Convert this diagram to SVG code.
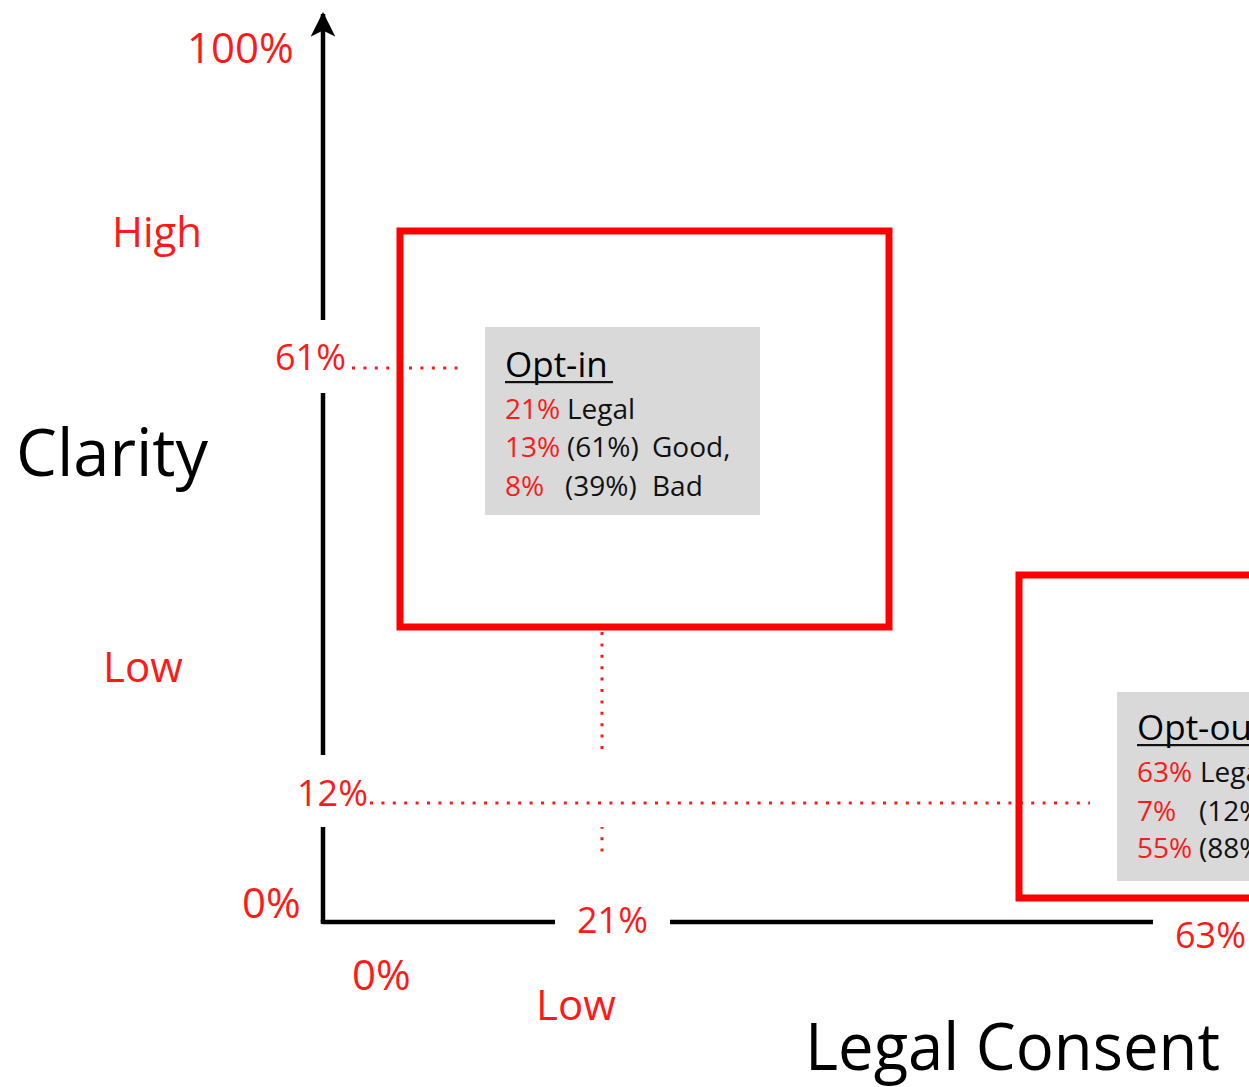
<svg xmlns="http://www.w3.org/2000/svg" width="1249" height="1087" viewBox="0 0 1249 1087">
  <defs>
    <marker id="arrowHead" viewBox="0 0 12 12" refX="11" refY="6" markerWidth="5.5" markerHeight="5.5" orient="auto" markerUnits="strokeWidth">
      <path d="M0,0 L12,6 L0,12 L3,6 Z" fill="#000"/>
    </marker>
  </defs>
  <style>
    text { font-family: "Open Sans", "Noto Sans", "Liberation Sans", sans-serif; }
    .axis { fill: none; stroke: #000; stroke-width: 4.5; stroke-linejoin: miter; }
    .dots { fill: none; stroke: #ff1a1a; stroke-width: 3; stroke-dasharray: 3 8.4; }
    .mask { fill: #fff; stroke: none; }
    .tick { fill: #ff1a1a; font-size: 36px; }
    .big { fill: #ff1a1a; font-size: 42px; }
    .title { fill: #000; font-size: 66px; }
    .frame { fill: none; stroke: #ff0000; stroke-width: 7; }
    .card { fill: #d9d9d9; }
    .head { fill: #000; font-size: 35px; }
    .line { font-size: 28px; fill: #111; }
    .pct { fill: #ff1a1a; }
  </style>

  <!-- axes -->
  <g id="axes">
    <polyline class="axis" points="323,922 323,14" marker-end="url(#arrowHead)"/>
    <polyline class="axis" points="323,924 323,922 1160,922"/>
  </g>

  <!-- connectors: dotted guide lines -->
  <g id="connectors">
    <line class="dots" x1="602" y1="632" x2="602" y2="860"/>
    <!-- label backgrounds hide the axes behind the tick labels -->
    <rect class="mask" x="258" y="320" width="220" height="73"/>
    <rect class="mask" x="275" y="755" width="817" height="72"/>
    <rect class="mask" x="555" y="858" width="115" height="97"/>
    <rect class="mask" x="1153" y="903" width="96" height="60"/>
    <line class="dots" x1="352" y1="368" x2="458" y2="368"/>
    <line class="dots" x1="370" y1="803" x2="1090" y2="803"/>
  </g>

  <!-- axis labels -->
  <g id="labels">
    <text class="big" x="187" y="63">100%</text>
    <text class="big" x="112" y="247">High</text>
    <text class="tick" x="275" y="370">61%</text>
    <text class="big" x="103" y="682">Low</text>
    <text class="tick" x="297" y="806">12%</text>
    <text class="big" x="242" y="918">0%</text>
    <text class="big" x="352" y="990">0%</text>
    <text class="tick" x="577" y="933">21%</text>
    <text class="big" x="536" y="1020">Low</text>
    <text class="tick" x="1175" y="948">63%</text>
    <text class="title" x="16" y="476" textLength="192" lengthAdjust="spacingAndGlyphs">Clarity</text>
    <text class="title" x="805" y="1070" textLength="415" lengthAdjust="spacingAndGlyphs">Legal Consent</text>
  </g>

  <!-- Opt-in region -->
  <g id="opt-in">
    <rect class="frame" x="400" y="231" width="489" height="396"/>
    <rect class="card" x="485" y="327" width="275" height="188"/>
    <text class="head" x="505" y="377">Opt-in</text>
    <rect x="505" y="381" width="108" height="2.2" fill="#111"/>
    <text class="line" y="419"><tspan class="pct" x="505">21%</tspan><tspan x="567">Legal</tspan></text>
    <text class="line" y="457"><tspan class="pct" x="505">13%</tspan><tspan x="567">(61%)</tspan><tspan x="652">Good,</tspan></text>
    <text class="line" y="496"><tspan class="pct" x="505">8%</tspan><tspan x="565">(39%)</tspan><tspan x="652">Bad</tspan></text>
  </g>

  <!-- Opt-out region -->
  <g id="opt-out">
    <rect class="frame" x="1019" y="575" width="320" height="323"/>
    <rect class="card" x="1117" y="692" width="200" height="189"/>
    <text class="head" x="1137" y="740">Opt-out</text>
    <rect x="1137" y="744" width="140" height="2.2" fill="#111"/>
    <text class="line" y="782"><tspan class="pct" x="1137">63%</tspan><tspan x="1200">Legal</tspan></text>
    <text class="line" y="821"><tspan class="pct" x="1137">7%</tspan><tspan x="1199">(12%)</tspan></text>
    <text class="line" y="858"><tspan class="pct" x="1137">55%</tspan><tspan x="1199">(88%)</tspan></text>
  </g>
</svg>
